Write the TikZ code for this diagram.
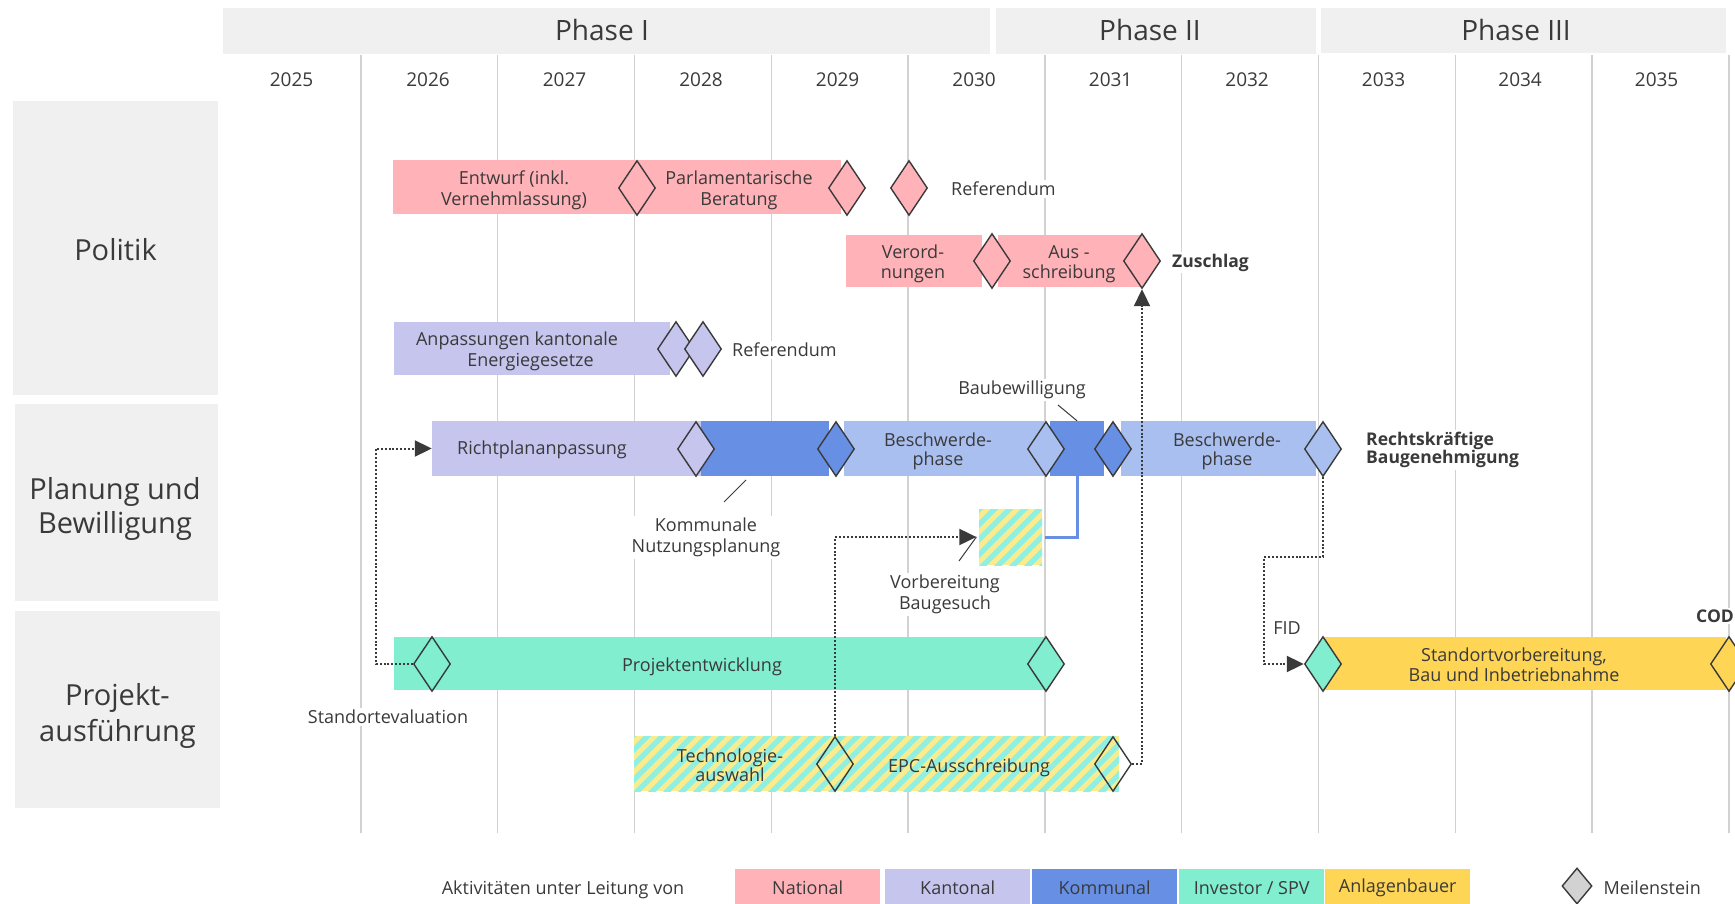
\documentclass[tikz,border=0pt]{standalone}
\usepackage{fontspec}
\setmainfont{Open Sans}
\usetikzlibrary{shapes.geometric,arrows.meta,patterns.meta}
\definecolor{natl}{HTML}{FFB3B9}
\definecolor{kant}{HTML}{C5C5EE}
\definecolor{komm}{HTML}{678FE4}
\definecolor{besch}{HTML}{A9BFF0}
\definecolor{inv}{HTML}{80EECF}
\definecolor{anl}{HTML}{FFD555}
\definecolor{hyel}{HTML}{FAEC8E}
\definecolor{hcy}{HTML}{8EF0E2}
\definecolor{boxg}{HTML}{F0F0F0}
\definecolor{gridc}{HTML}{D2D2D2}
\definecolor{txt}{HTML}{3A3A3A}
\newcommand\fsz[2]{\fontsize{#1}{#2}\selectfont}
\tikzset{
  bar/.style={draw=none, inner sep=0pt, minimum height=54},
  btxt/.style={inner sep=0pt, align=center, text=txt, font=\fsz{18}{21.5}},
  hatch/.style={preaction={fill=hyel}, pattern={Lines[angle=45,distance=10.6pt,line width=5.3pt]}, pattern color=hcy},
  ms/.style={diamond, draw=txt, line width=1.4, inner sep=0pt, minimum width=37, minimum height=55},
  lbl/.style={fill=white, inner sep=2pt, text=txt, align=center, font=\fsz{18}{21}},
  blbl/.style={fill=white, inner sep=2pt, text=txt, align=left, font=\fsz{17.5}{17.5}\bfseries},
  conn/.style={draw=txt, line width=2, dash pattern=on 2pt off 1.9pt, -{Triangle[length=17pt,width=16pt]}},
  lead/.style={draw=txt, line width=1},
  hdr/.style={fill=boxg, draw=none, inner sep=0pt, text=txt},
  htxt/.style={text=txt, align=center, font=\fsz{29}{34.5}},
  ptxt/.style={text=txt, font=\fsz{28}{33}},
  gl/.style={draw=gridc, line width=1.4},
  yr/.style={text=txt, font=\fsz{19}{23}},
  leg/.style={inner sep=0pt, minimum height=36, minimum width=145},
  ltxt/.style={text=txt, font=\fsz{18}{21}},
}
\begin{document}
\begin{tikzpicture}[x=1pt,y=-1pt]
\clip (0,0) rectangle (1735,904);
\fill[white] (0,0) rectangle (1735,904);
% phase headers
\node[hdr, minimum width=767, minimum height=46] (ph1) at (606.5,31) {};
\node[hdr, minimum width=320, minimum height=46] (ph2) at (1156,31) {};
\node[hdr, minimum width=405, minimum height=45] (ph3) at (1523.5,30.5) {};
\node[ptxt] (ph1t) at (602,30) {Phase I};
\node[ptxt] (ph2t) at (1150,30) {Phase II};
\node[ptxt] (ph3t) at (1516,30) {Phase III};
% row headers
\node[hdr, minimum width=205, minimum height=294] (r1) at (115.5,248) {};
\node[hdr, minimum width=203, minimum height=197] (r2) at (116.5,502.5) {};
\node[hdr, minimum width=205, minimum height=197] (r3) at (117.5,709.5) {};
\node[htxt] (r1t) at (115.5,250) {Politik};
\node[htxt] (r2t) at (115,509) {Planung und\\Bewilligung};
\node[htxt, font=\fsz{29}{35.5}] (r3t) at (117.5,716) {Projekt-\\ausführung};
% grid lines and years
\foreach \k in {1,...,11} {
  \draw[gl] ({224+\k*136.8},55) -- ({224+\k*136.8},833);
}
\foreach \y [count=\i from 0] in {2025,2026,2027,2028,2029,2030,2031,2032,2033,2034,2035} {
  \node[yr] (y\y) at ({291.6+\i*136.5},79.5) {\y};
}
% ---------- bars ----------
\node[bar, fill=natl, minimum width=244] (ent) at (515,187.5) {};
\node[bar, fill=natl, minimum width=204] (par) at (739,187.5) {};
\node[bar, fill=natl, minimum width=136, minimum height=52] (ver) at (914,261) {};
\node[bar, fill=natl, minimum width=144, minimum height=52] (aus) at (1070,261) {};
\node[bar, fill=kant, minimum width=276, minimum height=53] (anp) at (532,348.5) {};
\node[bar, fill=kant, minimum width=269, minimum height=55] (ric) at (566.5,448.5) {};
\node[bar, fill=komm, minimum width=128, minimum height=55] (kom1) at (765,448.5) {};
\node[bar, fill=besch, minimum width=200, minimum height=55] (bes1) at (944,448.5) {};
\node[bar, fill=komm, minimum width=54, minimum height=55] (kom2) at (1077,448.5) {};
\node[bar, fill=besch, minimum width=195, minimum height=55] (bes2) at (1218.5,448.5) {};
\node[hatch, inner sep=0pt, minimum width=63, minimum height=56] (vorb) at (1010.5,537) {};
\node[bar, fill=inv, minimum width=650, minimum height=53] (proj) at (719,663.5) {};
\node[bar, fill=anl, minimum width=403, minimum height=53] (std) at (1524.5,663.5) {};
\node[hatch, inner sep=0pt, minimum width=485, minimum height=55] (hat) at (876.5,763.5) {};
% ---------- bar texts ----------
\node[btxt] (entt) at (514,190.5) {Entwurf (inkl.\\Vernehmlassung)};
\node[btxt] (part) at (739,190.5) {Parlamentarische\\Beratung};
\node[btxt, font=\fsz{18}{20}] (vert) at (913,264) {Verord-\\nungen};
\node[btxt, font=\fsz{18}{20}] (aust) at (1069,264) {Aus -\\schreibung};
\node[btxt] (anpt) at (517,351.5) {Anpassungen kantonale\\\hspace*{27pt}Energiegesetze};
\node[btxt] (rict) at (542,450) {Richtplananpassung};
\node[btxt, font=\fsz{18}{19}] (bes1t) at (938,451) {Beschwerde-\\phase};
\node[btxt, font=\fsz{18}{19}] (bes2t) at (1227,451) {Beschwerde-\\phase};
\node[btxt] (projt) at (702,666.5) {Projektentwicklung};
\node[btxt, font=\fsz{18}{20}] (stdt) at (1514,664.5) {Standortvorbereitung,\\Bau und Inbetriebnahme};
\node[btxt, font=\fsz{18}{19}] (techt) at (730,765) {Technologie-\\auswahl};
\node[btxt] (epct) at (969,767.5) {EPC-Ausschreibung};
% ---------- milestones ----------
\node[ms, fill=natl] (d1) at (637,188) {};
\node[ms, fill=natl] (d2) at (847,188) {};
\node[ms, fill=natl] (d3) at (909,188) {};
\node[ms, fill=natl] (d4) at (992,261) {};
\node[ms, fill=natl] (zus) at (1142,261) {};
\node[ms, fill=kant] (d5) at (676,349) {};
\node[ms, fill=kant] (d6) at (703,349) {};
\node[ms, fill=kant] (d7) at (696,449) {};
\node[ms, fill=komm] (d8) at (836,449) {};
\node[ms, fill=besch] (d9) at (1046,449) {};
\node[ms, fill=komm] (d10) at (1113,449) {};
\node[ms, fill=besch] (rk) at (1323,449) {};
\node[ms, fill=inv] (pd1) at (432,664) {};
\node[ms, fill=inv] (pd2) at (1046,664) {};
\node[ms, fill=inv] (sd) at (1323,664) {};
\node[ms, fill=anl] (cod) at (1729,664) {};
\node[ms] (tech) at (835,764) {};
\node[ms] (epc) at (1113,764) {};
% ---------- labels ----------
\node[lbl, anchor=west] (ref1) at (949,189) {Referendum};
\node[blbl, anchor=west] (zusl) at (1170,262.5) {Zuschlag};
\node[lbl, anchor=west] (ref2) at (730,350) {Referendum};
\node[blbl, anchor=west] (rkl) at (1364,450) {Rechtskräftige\\Baugenehmigung};
\node[blbl, anchor=west] (codl) at (1694,616) {COD};
\node[lbl] (fid) at (1287,628) {FID};
\node[lbl] (bb) at (1022,390) {Baubewilligung};
\node[lbl] (kn) at (706,537.5) {Kommunale\\Nutzungsplanung};
\node[lbl] (vb) at (945,594) {Vorbereitung\\Baugesuch};
\node[lbl] (se) at (388,717) {Standortevaluation};
% leader lines
\draw[lead] (1058,405) -- (kom2.north);
\draw[lead] (746,480) -- (724,502);
\draw[lead] (959,561) -- (vorb.west);
% connectors
\draw[komm, line width=3] (kom2.south) |- (vorb.east);
\draw[conn] (pd1.west) -- ++(-37,0) |- (ric.west);
\draw[conn] (rk.south) |- (1264,557) |- (sd.west);
\draw[conn] (epc.east) -| (zus.south);
\draw[conn] (tech.north) |- (vorb.west);
% legend
\node[ltxt] (legt) at (563,890) {Aktivitäten unter Leitung von};
\node[leg, fill=natl, anchor=north west] (l1) at (735,869) {};
\node[leg, fill=kant, anchor=north west] (l2) at (885,869) {};
\node[leg, fill=komm, anchor=north west] (l3) at (1032,869) {};
\node[leg, fill=inv, anchor=north west] (l4) at (1179,869) {};
\node[leg, fill=anl, anchor=north west] (l5) at (1325,869) {};
\node[ltxt] at ([yshift=-1]l1.center) {National};
\node[ltxt] at ([yshift=-1]l2.center) {Kantonal};
\node[ltxt] at ([yshift=-1]l3.center) {Kommunal};
\node[ltxt] at ([yshift=-1]l4.center) {Investor / SPV};
\node[ltxt] at ([yshift=-1]l5.center) {Anlagenbauer};
\node[ms, fill=gridc, minimum width=30, minimum height=36] (lm) at (1577,886) {};
\node[ltxt, anchor=west] (lmt) at (1600,887.5) {Meilenstein};
\end{tikzpicture}
\end{document}
